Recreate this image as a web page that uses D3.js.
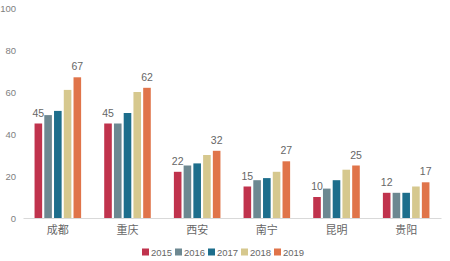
<!DOCTYPE html>
<html>
<head>
<meta charset="utf-8">
<script src="https://cdn.jsdelivr.net/npm/d3@7"></script>
<style>
  body { margin: 0; background: #fff; }
  svg { display: block; font-family: "Liberation Sans", "Noto Sans CJK SC", sans-serif; }
</style>
</head>
<body>
<svg id="chart" width="450" height="261"></svg>
<script>
const cities = ["成都", "重庆", "西安", "南宁", "昆明", "贵阳"];
const years = ["2015", "2016", "2017", "2018", "2019"];
const colors = ["#C0334D", "#6D8891", "#1D6E8C", "#D6C88E", "#E0744A"];
const yTicks = [0, 20, 40, 60, 80, 100];

// one array per year, in city order
const v2015 = [45, 45, 22, 15, 10, 12];
const v2016 = [49, 45, 25, 18, 14, 12];
const v2017 = [51, 50, 26, 19, 18, 12];
const v2018 = [61, 60, 30, 22, 23, 15];
const v2019 = [67, 62, 32, 27, 25, 17];
const series = [v2015, v2016, v2017, v2018, v2019];

// only first and last year get value labels
const labelled = ["2015", "2019"];

const svg = d3.select("#chart");
const margin = { left: 23, right: 9, top: 8, bottom: 43 };
const width = 450, height = 261;

const x0 = d3.scaleBand()
  .domain(cities)
  .range([margin.left, width - margin.right])
  .paddingInner(0.27)
  .paddingOuter(0.135);

const x1 = d3.scaleBand()
  .domain(years)
  .range([0, x0.bandwidth()])
  .padding(0.22);

const y = d3.scaleLinear()
  .domain([0, 100])
  .range([height - margin.bottom, margin.top]);

const color = d3.scaleOrdinal().domain(years).range(colors);

// y axis labels, no line
svg.append("g")
  .attr("class", "axisLeft")
  .attr("transform", `translate(${margin.left - 7}, 0)`)
  .call(d3.axisLeft(y).tickValues(yTicks).tickSize(0).tickPadding(0))
  .call((g) => g.select(".domain").remove())
  .call((g) => g.selectAll("text")
    .style("font-size", "9.5px")
    .attr("fill", "#808080"));

// bars
const groups = svg.append("g")
  .selectAll("g")
  .data(cities)
  .join("g")
  .attr("transform", (d) => `translate(${x0(d)}, 0)`);

groups.selectAll("rect")
  .data((city, ci) => years.map((yr, yi) => ({ yr, value: series[yi][ci] })))
  .join("rect")
  .attr("x", (d) => x1(d.yr))
  .attr("y", (d) => y(d.value))
  .attr("width", x1.bandwidth())
  .attr("height", (d) => y(0) - y(d.value))
  .attr("fill", (d) => color(d.yr));

groups.selectAll("text")
  .data((city, ci) => years
    .map((yr, yi) => ({ yr, value: series[yi][ci] }))
    .filter((d) => labelled.includes(d.yr)))
  .join("text")
  .attr("x", (d) => x1(d.yr) + x1.bandwidth() / 2)
  .attr("y", (d) => y(d.value) - 7)
  .attr("text-anchor", "middle")
  .style("font-size", "10.5px")
  .attr("fill", "#666")
  .text((d) => d.value);

// bottom axis
svg.append("g")
  .attr("class", "axisBottom")
  .attr("transform", `translate(0, ${y(0)})`)
  .call(d3.axisBottom(x0).tickSize(0).tickPadding(8))
  .call((g) => g.select(".domain").attr("stroke", "#d9d9d9").attr("stroke-width", 1))
  .call((g) => g.selectAll("text")
    .style("font-size", "11px")
    .style("font-family", "'Noto Sans CJK SC', sans-serif")
    .attr("fill", "#666"));

// legend
const legend = svg.append("g")
  .attr("transform", "translate(142, 252)")
  .selectAll("g")
  .data(years)
  .join("g")
  .attr("transform", (d, i) => `translate(${i * 33}, 0)`);

legend.append("rect")
  .attr("x", 0)
  .attr("y", -3.5)
  .attr("width", 7)
  .attr("height", 7)
  .attr("fill", (d) => color(d));

legend.append("text")
  .attr("x", 9)
  .attr("y", 0.5)
  .attr("dominant-baseline", "central")
  .style("font-size", "9.5px")
  .attr("fill", "#666")
  .text((d) => d);
</script>
</body>
</html>
